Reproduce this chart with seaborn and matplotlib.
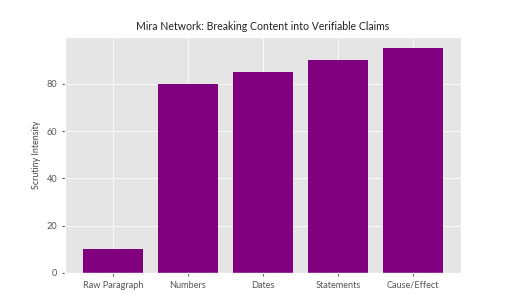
import matplotlib
matplotlib.use("Agg")
import matplotlib.pyplot as plt
import seaborn as sns
import pandas as pd

categories = ["Raw Paragraph", "Numbers", "Dates", "Statements", "Cause/Effect"]
values = [10, 80, 85, 90, 95]

plt.style.use("ggplot")
plt.rcParams["font.family"] = ["Lato", "DejaVu Sans"]

df = pd.DataFrame({"category": categories, "value": values})

fig = plt.figure(figsize=(5.12, 3.07), dpi=100)
ax = fig.add_axes([65/512, 1 - 273/307, (461-65)/512, (273-37)/307])
sns.barplot(data=df, x="category", y="value", color="purple", saturation=1,
            width=0.8, ax=ax)
for p in ax.patches:
    p.set_edgecolor("none")
ax.set_title("Mira Network: Breaking Content into Verifiable Claims",
             fontsize=7.6, color="#222222", pad=5)
ax.set_xlabel("")
ax.set_ylabel("Scrutiny Intensity", fontsize=6.4, color="#444444")
ax.tick_params(axis="both", labelsize=6.6, colors="#555555", length=2)
ax.set_yticks([0, 20, 40, 60, 80])
ax.set_xlim(-0.64, 4.64)
ax.set_ylim(0, 99.75)
ax.grid(True, color="white", linewidth=0.6)
ax.set_axisbelow(True)
fig.savefig("out.png", dpi=100)
